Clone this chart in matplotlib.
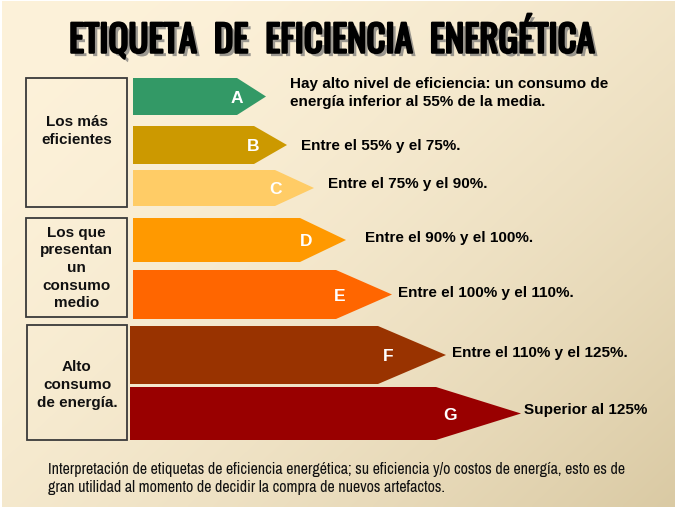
import numpy as np
import matplotlib
matplotlib.use("Agg")
import matplotlib.pyplot as plt
from matplotlib.patches import Polygon, Rectangle
import matplotlib.patheffects as pe

# --- chart content -------------------------------------------------------
title = "ETIQUETA  DE  EFICIENCIA  ENERGÉTICA"
letters = ["A", "B", "C", "D", "E", "F", "G"]
descriptions = [
    "Hay alto nivel de eficiencia: un consumo de\nenergía inferior al 55% de la media.",
    "Entre el 55% y el 75%.",
    "Entre el 75% y el 90%.",
    "Entre el 90% y el 100%.",
    "Entre el 100% y el 110%.",
    "Entre el 110% y el 125%.",
    "Superior al 125%",
]
# arrow lengths (px from the page's left edge): body end and tip
body_end = [237, 254, 275, 300, 336, 378, 436]
tip_end = [266, 287, 314, 346, 392, 446, 521]
group_labels = ["Los más\neficientes",
                "Los que\npresentan\nun\nconsumo\nmedio",
                "Alto\nconsumo\nde energía."]
caption = ("Interpretación de etiquetas de eficiencia energética; su eficiencia y/o costos de energía, esto es de\n"
           "gran utilidad al momento de decidir la compra de nuevos artefactos.")

# --- layout / style ------------------------------------------------------
bar_colors = ["#339966", "#CC9900", "#FFCC66", "#FF9900", "#FF6600", "#993300", "#990000"]
bar_top = [79, 127, 171, 219, 271, 327, 388]
bar_bot = [116, 165, 207, 263, 320, 385, 441]
bar_x0 = [133, 133, 133, 133, 133, 130, 130]
letter_x = [237, 253, 276, 306, 340, 388, 450]
desc_x = [290, 301, 328, 365, 398, 452, 524]
desc_y = [93, 146, 184, 238, 293, 353, 410]
group_boxes = [(26, 79, 127, 208), (26, 219, 127, 318), (27, 326, 127, 441)]
group_text_y = [131, 268, 385]

TITLE_FONT = ["Oswald", "Roboto Condensed", "DejaVu Sans"]
NARROW = ["Archivo Narrow", "Roboto Condensed", "DejaVu Sans"]
SANS = ["Liberation Sans", "DejaVu Sans"]

W, H = 677, 510
fig = plt.figure(figsize=(W / 100, H / 100), dpi=100)
ax = fig.add_axes([0, 0, 1, 1])
ax.set_xlim(0, W); ax.set_ylim(H, 0)
ax.axis("off")

# cream diagonal gradient background inside a thin white margin
yy, xx = np.mgrid[0:1:200j, 0:1:260j]
t = np.clip(0.55 * xx + 0.45 * yy, 0, 1) ** 1.8
c0 = np.array([253, 242, 218]) / 255
c1 = np.array([218, 202, 164]) / 255
grad = c0[None, None, :] * (1 - t[..., None]) + c1[None, None, :] * t[..., None]
ax.imshow(grad, extent=(2, 675, 508, 2), aspect="auto", zorder=0, interpolation="bicubic")


def fit_width(txt, target_px):
    """Rescale a text so its rendered width matches target_px."""
    r = fig.canvas.get_renderer()
    w = txt.get_window_extent(renderer=r).width
    txt.set_fontsize(txt.get_fontsize() * target_px / w)


# heavy condensed title: Oswald thickened with a stroke, grey drop shadow
ttl = ax.text(69, 38, title, ha="left", va="center", fontsize=26,
              family=TITLE_FONT, color="black",
              path_effects=[pe.withSimplePatchShadow(offset=(2.5, -2.5), shadow_rgbFace="0.45",
                                                     alpha=0.7),
                            pe.Stroke(linewidth=1.6, foreground="black"),
                            pe.Normal()])
fit_width(ttl, 526)

for i, let in enumerate(letters):
    y0, y1 = bar_top[i], bar_bot[i]
    ym = (y0 + y1) / 2
    poly = Polygon([(bar_x0[i], y0), (body_end[i], y0), (tip_end[i], ym),
                    (body_end[i], y1), (bar_x0[i], y1)],
                   closed=True, facecolor=bar_colors[i], edgecolor="none", zorder=2)
    ax.add_patch(poly)
    ax.text(letter_x[i], ym + 1, let, ha="center", va="center", color="white",
            fontsize=12.5, weight="bold", family=SANS, zorder=3)
    ax.text(desc_x[i], desc_y[i], descriptions[i], ha="left", va="center",
            fontsize=11, weight="bold", family=SANS, linespacing=1.32, zorder=3)

for (x0, y0, x1, y1), lab, ty in zip(group_boxes, group_labels, group_text_y):
    ax.add_patch(Rectangle((x0, y0), x1 - x0, y1 - y0, facecolor="none",
                           edgecolor="#3a3a3a", lw=1.3, zorder=2))
    ax.text((x0 + x1) / 2, ty, lab, ha="center", va="center",
            fontsize=11, weight="bold", family=SANS, linespacing=1.32, color="#111111")

cap = ax.text(48, 479, caption, ha="left", va="center", fontsize=10, family=NARROW,
              linespacing=1.25, color="#111111")
fit_width(cap, 582)

fig.savefig("out.png", dpi=100)
